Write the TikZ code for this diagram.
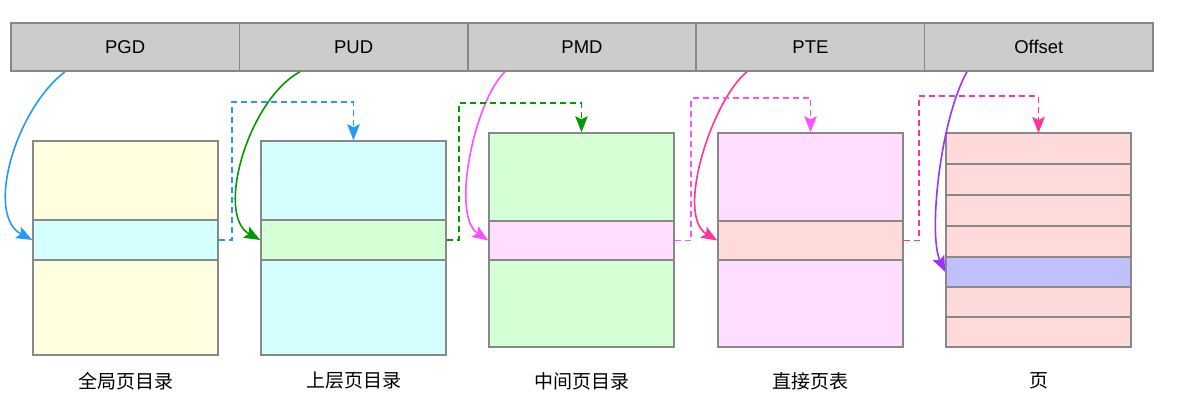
\documentclass[tikz,border=0pt]{standalone}
\usepackage{fontspec}
\setmainfont{Liberation Sans}
\newfontfamily\cjk{Noto Sans CJK SC}
\usetikzlibrary{arrows.meta}
\definecolor{edge}{HTML}{888888}
\definecolor{barg}{HTML}{CCCCCC}
\definecolor{fyel}{HTML}{FFFFE0}
\definecolor{fcyn}{HTML}{D4FFFF}
\definecolor{fgrn}{HTML}{D5FFD5}
\definecolor{fmag}{HTML}{FFDDFF}
\definecolor{fred}{HTML}{FFDADA}
\definecolor{fpur}{HTML}{C0C0FF}
\definecolor{cblue}{HTML}{2299FF}
\definecolor{cgreen}{HTML}{009900}
\definecolor{cmag}{HTML}{FF4FFF}
\definecolor{cpink}{HTML}{FF3399}
\definecolor{cpurple}{HTML}{9933FF}
\begin{document}
\begin{tikzpicture}[x=1pt,y=-1pt,
  cell/.style={draw=edge, fill=barg, line width=1.5pt, minimum width=228.4pt, minimum height=48pt, inner sep=0pt, font=\fontsize{18.5}{20}\selectfont},
  tbl/.style={draw=edge, line width=1.5pt, minimum width=185pt, inner sep=0pt},
  lbl/.style={font=\cjk\fontsize{19}{20}\selectfont, inner sep=0pt},
  conn/.style={line width=1.6pt, -{Stealth[length=16pt,width=12.5pt,inset=3pt]}},
  dsh/.style={conn, dash pattern=on 6pt off 4pt}
]
\useasboundingbox (0,0) rectangle (1185,415);
% top bar
\node[cell] (pgd) at (125.2,47) {PGD};
\node[cell] (pud) at (353.6,47) {PUD};
\node[cell] (pmd) at (582,47) {PMD};
\node[cell] (pte) at (810.4,47) {PTE};
\node[cell] (off) at (1038.8,47) {Offset};
% tables
\node[tbl, fill=fyel, minimum height=214pt] (t1) at (125.5,248) {};
\node[tbl, fill=fcyn, minimum height=40pt] (r1) at (125.5,240) {};
\node[tbl, fill=fcyn, minimum height=214pt] (t2) at (353.5,248) {};
\node[tbl, fill=fgrn, minimum height=40pt] (r2) at (353.5,240) {};
\node[tbl, fill=fgrn, minimum height=214pt] (t3) at (581.5,240) {};
\node[tbl, fill=fmag, minimum height=39pt] (r3) at (581.5,240.5) {};
\node[tbl, fill=fmag, minimum height=214pt] (t4) at (810.5,240) {};
\node[tbl, fill=fred, minimum height=39pt] (r4) at (810.5,240.5) {};
\node[tbl, fill=fred, minimum height=31pt] (p1) at (1038.5,148.5) {};
\node[tbl, fill=fred, minimum height=31pt] (p2) at (1038.5,179.5) {};
\node[tbl, fill=fred, minimum height=31pt] (p3) at (1038.5,210.5) {};
\node[tbl, fill=fred, minimum height=31pt] (p4) at (1038.5,241.5) {};
\node[tbl, fill=fpur, minimum height=30pt] (p5) at (1038.5,272) {};
\node[tbl, fill=fred, minimum height=30pt] (p6) at (1038.5,302) {};
\node[tbl, fill=fred, minimum height=30pt] (p7) at (1038.5,332) {};
\coordinate (t5) at (1038.5,133);
% labels
\node[lbl] (l1) at (125.5,381) {全局页目录};
\node[lbl] (l2) at (353.5,381) {上层页目录};
\node[lbl] (l3) at (581.5,381) {中间页目录};
\node[lbl] (l4) at (810.5,381) {直接页表};
\node[lbl] (l5) at (1038.5,381) {页};
% curved connectors
\draw[conn, cblue] ([xshift=-60.2pt]pgd.south) .. controls (15,110) and (-15,215) .. (r1.west);
\draw[conn, cgreen] ([xshift=-53.6pt]pud.south) .. controls (248,100) and (215,215) .. (r2.west);
\draw[conn, cmag] ([xshift=-77pt]pmd.south) .. controls (475,100) and (450,215) .. (r3.west);
\draw[conn, cpink] ([xshift=-63.4pt]pte.south) .. controls (712,100) and (675,215) .. (r4.west);
\draw[conn, cpurple] ([xshift=-71.8pt]off.south) .. controls (940,120) and (928,235) .. (p5.west);
% dashed connectors
\draw[dsh, cblue] (r1.east) -- ++(13,0) |- ([yshift=38pt]t2.north) -- (t2.north);
\draw[dsh, cgreen] (r2.east) -- ++(12,0) |- ([yshift=29pt]t3.north) -- (t3.north);
\draw[dsh, cmag] (r3.east) -- ++(16,0) |- ([yshift=34pt]t4.north) -- (t4.north);
\draw[dsh, cpink] (r4.east) -- ++(15,0) |- ([yshift=37pt]t5) -- (t5);
\end{tikzpicture}
\end{document}
